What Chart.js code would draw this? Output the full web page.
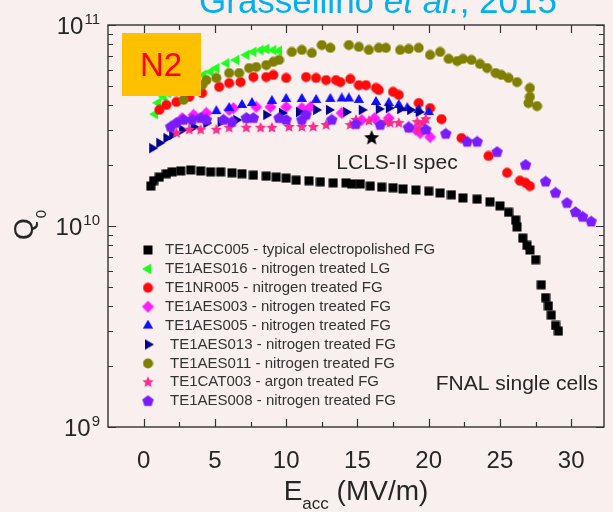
<!DOCTYPE html>
<html>
<head>
<meta charset="utf-8">
<script src="https://cdn.jsdelivr.net/npm/chart.js@4.4.1/dist/chart.umd.min.js"></script>
<style>
html, body { margin: 0; padding: 0; background: #f9efee; }
canvas { display: block; }
</style>
</head>
<body>
<canvas id="c" width="613" height="512"></canvas>
<script>
// Q0 versus accelerating gradient for FNAL single-cell cavities.
// Gradients in MV/m, quality factors in units of 1e10.

const acc005E = [0.5,0.7,1.1,1.6,2.0,2.6,3.3,4.0,4.7,5.4,6.2,6.9,7.7,8.6,9.3,10.0,10.7,11.6,12.4,13.3,14.2,14.6,15.2,15.9,16.7,17.5,18.2,19.1,20.0,20.8,21.6,22.4,23.4,24.3,25.0,25.6,26.1,26.2,26.6,26.9,27.1,27.5,27.9,28.2,28.4,28.6,28.9,29.1];
const acc005Q = [1.58,1.68,1.75,1.82,1.86,1.88,1.90,1.88,1.86,1.86,1.84,1.82,1.79,1.77,1.75,1.73,1.69,1.68,1.66,1.64,1.64,1.62,1.62,1.58,1.56,1.55,1.53,1.51,1.49,1.46,1.43,1.38,1.36,1.32,1.26,1.17,1.07,0.99,0.87,0.80,0.76,0.68,0.51,0.44,0.40,0.36,0.32,0.30];

const aes016E = [0.8,1.0,1.4,1.7,2.0,2.6,3.0,3.4,4.2,4.7,5.1,5.8,6.5,7.2,7.7,8.2,8.6,9.1,9.5];
const aes016Q = [3.60,4.10,4.40,4.60,4.75,5.00,5.15,5.30,5.65,5.85,6.10,6.45,6.70,7.10,7.35,7.50,7.60,7.50,7.45];

const nr005E = [1.1,1.6,2.3,3.2,4.1,5.3,6.0,6.8,7.7,8.6,9.1,10.0,11.4,12.1,12.8,13.5,13.8,14.5,15.1,15.6,16.3,16.5,17.5,17.9,19.3,20.1,20.9,22.3,24.2,25.5,26.4,26.8,27.1];
const nr005Q = [3.78,4.00,4.14,4.39,4.59,4.92,5.14,5.20,5.51,5.51,5.64,5.45,5.51,5.45,5.32,5.32,5.20,5.39,5.02,5.02,4.86,4.75,4.65,4.49,4.09,3.86,3.40,2.74,2.23,1.84,1.68,1.64,1.58];

const aes003E = [2.7,3.5,4.4,6.0,6.3,7.9,8.9,10.0,11.1,11.7,13.9,15.3,16.2,17.2,18.6,19.1,19.4,20.1];
const aes003Q = [3.44,3.57,3.65,3.78,3.86,3.91,3.91,3.91,3.86,3.91,3.65,3.37,3.44,3.44,3.11,3.01,2.90,2.77];

const aes005E = [5.1,6.0,6.9,7.6,9.0,10.0,11.1,12.1,13.1,13.9,14.4,15.1,16.3,17.2,17.9,18.5,19.3,20.0];
const aes005Q = [3.73,3.86,4.00,4.09,4.19,4.29,4.29,4.24,4.29,4.31,4.31,4.24,4.14,4.09,4.00,3.86,3.78,3.69];

const aes013E = [0.6,1.1,1.6,2.0,2.7,3.5,4.4,5.4,6.5,7.4,8.6,9.7,10.9,12.1,13.0,14.2,15.3,16.5,17.2,18.0,18.7,19.3];
const aes013Q = [2.44,2.59,2.74,2.84,3.01,3.11,3.25,3.29,3.37,3.44,3.57,3.65,3.69,3.78,3.78,3.69,3.78,3.82,3.86,3.82,3.78,3.69];

const aes011E = [2.8,3.4,3.7,4.1,4.4,5.1,6.0,6.7,7.4,7.9,8.6,9.1,9.5,10.4,11.1,11.8,12.5,13.1,14.4,15.1,15.8,16.5,17.0,18.0,18.6,19.3,20.1,20.8,21.4,22.0,22.4,23.0,23.6,24.1,24.7,25.1,25.6,26.2,27.1,27.1,27.0,27.6];
const aes011Q = [4.24,4.75,5.14,5.02,5.32,5.45,5.77,5.77,6.11,6.18,6.32,6.55,6.70,7.34,7.51,7.26,7.95,7.69,7.95,7.78,7.51,7.69,7.69,7.51,7.60,7.69,7.10,7.34,6.78,6.62,6.78,6.70,6.40,6.11,5.77,5.64,5.45,5.20,4.86,4.39,4.09,3.95];

const cat003E = [2.3,3.2,4.0,5.1,6.0,7.2,8.2,9.0,10.2,11.1,11.9,12.8,14.5,14.9,15.8,17.0,17.3,17.9,19.2,19.6,19.8,19.3];
const cat003Q = [2.90,3.01,3.01,3.01,3.08,3.08,3.08,3.08,3.11,3.11,3.11,3.18,3.18,3.37,3.33,3.29,3.25,3.25,3.29,3.25,3.40,3.01];

const aes008E = [1.9,2.3,2.8,3.4,4.0,4.4,5.6,6.2,7.2,7.7,9.5,10.0,11.1,11.4,13.2,14.9,16.6,18.6,19.8,21.2,22.7,23.4,24.8,26.8,28.2,28.9,29.7,30.3,30.8,31.4];
const aes008Q = [3.11,3.25,3.37,3.37,3.44,3.37,3.37,3.29,3.44,3.44,3.44,3.37,3.37,3.57,3.37,3.21,3.18,3.08,3.01,2.87,2.62,2.62,2.33,2.01,1.66,1.46,1.30,1.17,1.11,1.05];

const specE = [16.0];
const specQ = [2.74];

const seriesNames = [
  'TE1ACC005 - typical electropolished FG',
  'TE1AES016 - nitrogen treated LG',
  'TE1NR005 - nitrogen treated FG',
  'TE1AES003 - nitrogen treated FG',
  'TE1AES005 - nitrogen treated FG',
  'TE1AES013 - nitrogen treated FG',
  'TE1AES011 - nitrogen treated FG',
  'TE1CAT003 - argon treated FG',
  'TE1AES008 - nitrogen treated FG'
];
const specName = 'LCLS-II spec';

const xTickValues = [0, 5, 10, 15, 20, 25, 30];
const xMinorValues = [2.5, 7.5, 12.5, 17.5, 22.5, 27.5];
const yDecades = [1e9, 1e10, 1e11];
const yDecadeExp = ['9', '10', '11'];
const yMinorFactors = [2, 3, 4, 5, 6, 7, 8, 9];

// ---- marker sprites ----
function sprite(size, draw) {
  const c = document.createElement('canvas');
  c.width = size; c.height = size;
  const g = c.getContext('2d');
  g.translate(size / 2, size / 2);
  draw(g, size / 2);
  return c;
}
function poly(g, pts, color) {
  g.beginPath();
  pts.forEach((p, i) => i ? g.lineTo(p[0], p[1]) : g.moveTo(p[0], p[1]));
  g.closePath(); g.fillStyle = color; g.fill();
}
function ngon(n, r, rot) {
  const pts = [];
  for (let i = 0; i < n; i++) {
    const a = rot + i * 2 * Math.PI / n;
    pts.push([r * Math.cos(a), r * Math.sin(a)]);
  }
  return pts;
}
function starPts(R, r) {
  const pts = [];
  for (let i = 0; i < 10; i++) {
    const a = -Math.PI / 2 + i * Math.PI / 5;
    const rr = i % 2 ? r : R;
    pts.push([rr * Math.cos(a), rr * Math.sin(a)]);
  }
  return pts;
}
const mk = {
  square: (col) => sprite(10, (g) => { g.fillStyle = col; g.fillRect(-4.5, -4.5, 9, 9); }),
  circle: (col) => sprite(11, (g) => { g.beginPath(); g.arc(0, 0, 5, 0, 2 * Math.PI); g.fillStyle = col; g.fill(); }),
  triUp: (col) => sprite(12, (g) => poly(g, ngon(3, 6, -Math.PI / 2), col)),
  triLeft: (col) => sprite(12, (g) => poly(g, ngon(3, 6, Math.PI), col)),
  triRight: (col) => sprite(12, (g) => poly(g, ngon(3, 6, 0), col)),
  diamond: (col) => sprite(13, (g) => poly(g, ngon(4, 6, -Math.PI / 2), col)),
  star: (col, R) => sprite(2 * R + 2, (g) => poly(g, starPts(R, R * 0.45), col)),
  pentagon: (col) => sprite(13, (g) => poly(g, ngon(5, 6, -Math.PI / 2), col))
};

const markers = [
  mk.square('#000000'),
  mk.triLeft('#1cff1c'),
  mk.circle('#ff0a0a'),
  mk.diamond('#ff1aff'),
  mk.triUp('#1010ff'),
  mk.triRight('#000090'),
  mk.circle('#7f7f00'),
  mk.star('#ff2a8c', 6),
  mk.pentagon('#7a1cff')
];
const specMarker = mk.star('#000000', 8);

const seriesE = [acc005E, aes016E, nr005E, aes003E, aes005E, aes013E, aes011E, cat003E, aes008E];
const seriesQ = [acc005Q, aes016Q, nr005Q, aes003Q, aes005Q, aes013Q, aes011Q, cat003Q, aes008Q];

const toPoints = (E, Q) => E.map((e, i) => ({ x: e, y: Q[i] * 1e10 }));

const datasets = seriesNames.map((name, i) => ({
  label: name,
  data: toPoints(seriesE[i], seriesQ[i]),
  pointStyle: markers[i],
  pointRadius: 5,
  order: 20 - i
}));
datasets.push({
  label: specName,
  data: toPoints(specE, specQ),
  pointStyle: specMarker,
  pointRadius: 8,
  order: 0
});

const FONT = '"Liberation Sans", Arial, sans-serif';
const INK = '#262626';

const decor = {
  id: 'decor',
  beforeDraw(chart) {
    const ctx = chart.ctx;
    ctx.save();
    ctx.fillStyle = '#f9efee';
    ctx.fillRect(0, 0, chart.width, chart.height);
    ctx.restore();
  },
  afterDraw(chart) {
    const { ctx, chartArea: a, scales: { x, y } } = chart;
    ctx.save();

    // frame
    ctx.strokeStyle = '#333';
    ctx.lineWidth = 1.4;
    ctx.strokeRect(a.left, a.top, a.right - a.left, a.bottom - a.top);

    // inward ticks on all four sides
    ctx.lineWidth = 1.2;
    ctx.beginPath();
    const vTick = (px, len) => {
      ctx.moveTo(px, a.bottom); ctx.lineTo(px, a.bottom - len);
      ctx.moveTo(px, a.top); ctx.lineTo(px, a.top + len);
    };
    const hTick = (py, len) => {
      ctx.moveTo(a.left, py); ctx.lineTo(a.left + len, py);
      ctx.moveTo(a.right, py); ctx.lineTo(a.right - len, py);
    };
    xTickValues.forEach(v => vTick(Math.round(x.getPixelForValue(v)) + 0.5, 8));
    xMinorValues.forEach(v => vTick(Math.round(x.getPixelForValue(v)) + 0.5, 5));
    yDecades.forEach((d, k) => {
      hTick(Math.round(y.getPixelForValue(d)) + 0.5, 8);
      if (k < yDecades.length - 1) {
        yMinorFactors.forEach(f => hTick(Math.round(y.getPixelForValue(d * f)) + 0.5, 5));
      }
    });
    ctx.stroke();

    // y tick labels with superscript exponents
    ctx.fillStyle = INK;
    ctx.textBaseline = 'alphabetic';
    yDecades.forEach((d, k) => {
      const py = y.getPixelForValue(d);
      ctx.font = '15px ' + FONT;
      ctx.textAlign = 'right';
      const supW = ctx.measureText(yDecadeExp[k]).width;
      ctx.fillText(yDecadeExp[k], 100, py - 1);
      ctx.font = '24px ' + FONT;
      ctx.fillText('10', 100 - supW - 1, py + 8.5);
    });

    // y title: Q0 (rotated)
    ctx.save();
    ctx.translate(33, 240);
    ctx.rotate(-Math.PI / 2);
    ctx.textAlign = 'left';
    ctx.font = '28px ' + FONT;
    ctx.fillText('Q', 0, 0);
    const qW = ctx.measureText('Q').width;
    ctx.font = '15px ' + FONT;
    ctx.fillText('0', qW, 13);
    ctx.restore();

    // x title: Eacc (MV/m)
    ctx.textAlign = 'left';
    ctx.font = '28px ' + FONT;
    const eW = ctx.measureText('E').width;
    ctx.font = '17px ' + FONT;
    const accW = ctx.measureText('acc').width;
    ctx.font = '28px ' + FONT;
    const unitW = ctx.measureText(' (MV/m)').width;
    const cx = (a.left + a.right) / 2;
    let tx = cx - (eW + accW + unitW) / 2;
    ctx.fillText('E', tx, 500);
    ctx.font = '17px ' + FONT;
    ctx.fillText('acc', tx + eW, 509);
    ctx.font = '28px ' + FONT;
    ctx.fillText(' (MV/m)', tx + eW + accW, 500);

    // annotations
    ctx.font = '21px ' + FONT;
    ctx.textAlign = 'center';
    ctx.fillText(specName, 397, 169);
    ctx.textAlign = 'right';
    ctx.fillText('FNAL single cells', 598, 390);

    // legend
    ctx.textAlign = 'left';
    ctx.textBaseline = 'middle';
    ctx.font = '15px ' + FONT;
    seriesNames.forEach((name, i) => {
      const ly = 250 + i * 18.9;
      const m = markers[i];
      ctx.drawImage(m, 148 - m.width / 2, ly - m.height / 2);
      ctx.fillStyle = '#333';
      ctx.fillText(name, i < 5 ? 165 : 170, ly);
    });

    // N2 badge
    ctx.fillStyle = '#ffc000';
    ctx.fillRect(122, 33, 79, 63);
    ctx.fillStyle = '#ff0000';
    ctx.font = '33px ' + FONT;
    ctx.textAlign = 'center';
    ctx.textBaseline = 'alphabetic';
    ctx.fillText('N2', 161, 76);

    // citation, partly above the canvas top
    ctx.fillStyle = '#00b0f0';
    ctx.textAlign = 'left';
    ctx.font = '35px ' + FONT;
    let cxp = 199;
    const part = (t, it) => {
      ctx.font = (it ? 'italic ' : '') + '35px ' + FONT;
      ctx.fillText(t, cxp, 13);
      cxp += ctx.measureText(t).width;
    };
    part('Grassellino ', false);
    part('et al.', true);
    part(', 2015', false);

    ctx.restore();
  }
};

new Chart(document.getElementById('c'), {
  type: 'scatter',
  data: { datasets },
  options: {
    responsive: false,
    animation: false,
    events: [],
    layout: { padding: { top: 25, right: 7, left: 0, bottom: 0 } },
    plugins: { legend: { display: false }, tooltip: { enabled: false } },
    scales: {
      x: {
        type: 'linear',
        min: -2.5,
        max: 32.3,
        grid: { display: false, drawTicks: false },
        border: { display: false },
        ticks: {
          autoSkip: false,
          maxRotation: 0,
          padding: 20,
          color: INK,
          font: { family: FONT, size: 24 }
        },
        afterBuildTicks: (s) => { s.ticks = xTickValues.map(v => ({ value: v })); },
        afterFit: (s) => { s.height = 85; }
      },
      y: {
        type: 'logarithmic',
        min: 1e9,
        max: 1e11,
        grid: { display: false, drawTicks: false },
        border: { display: false },
        ticks: { display: false },
        afterFit: (s) => { s.width = 108; }
      }
    }
  },
  plugins: [decor]
});
</script>
</body>
</html>
